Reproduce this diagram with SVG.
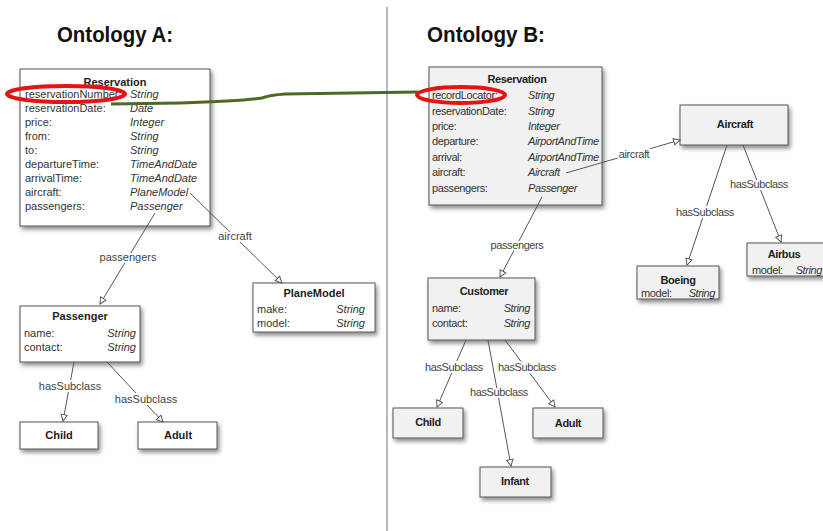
<svg xmlns="http://www.w3.org/2000/svg" width="823" height="531" viewBox="0 0 823 531">
<style>
.ttl{font-family:"Liberation Sans",Arial,sans-serif;font-weight:bold;font-size:22px;fill:#111}
.a{font-family:"Liberation Sans",Arial,sans-serif;font-size:11px;fill:#333}
.ab{font-family:"Liberation Sans",Arial,sans-serif;font-size:11px;font-weight:bold;fill:#222;text-anchor:middle}
.ai{font-family:"Liberation Sans",Arial,sans-serif;font-size:11px;font-style:italic;fill:#333}
.b{font-family:"Liberation Sans",Arial,sans-serif;font-size:11px;letter-spacing:-0.4px;fill:#333}
.bb{font-family:"Liberation Sans",Arial,sans-serif;font-size:11px;letter-spacing:-0.35px;font-weight:bold;fill:#222;text-anchor:middle}
.bi{font-family:"Liberation Sans",Arial,sans-serif;font-size:11px;letter-spacing:-0.4px;font-style:italic;fill:#333}
.boxA{fill:#fff;stroke:#555;stroke-width:1;filter:url(#sh)}
.boxB{fill:#f1f1f1;stroke:#555;stroke-width:1;filter:url(#sh)}
.con{stroke:#555;stroke-width:1;fill:none;marker-end:url(#tri)}
.lblA{font-family:"Liberation Sans",Arial,sans-serif;font-size:11px;fill:#444;text-anchor:middle;stroke:#fff;stroke-width:4;paint-order:stroke}
.lblB{font-family:"Liberation Sans",Arial,sans-serif;font-size:11px;letter-spacing:-0.4px;fill:#444;text-anchor:middle;stroke:#fff;stroke-width:4;paint-order:stroke}
.red{fill:none;stroke:#e41414;stroke-width:4}
.end{text-anchor:end}
</style>
<defs>
<filter id="sh" x="-10%" y="-10%" width="130%" height="140%">
<feDropShadow dx="2" dy="3" stdDeviation="2" flood-color="#000" flood-opacity="0.45"/>
</filter>
<marker id="tri" viewBox="0 0 10 10" refX="9" refY="5" markerWidth="8" markerHeight="8" markerUnits="userSpaceOnUse" orient="auto">
<path d="M1,1 L9,5 L1,9 Z" fill="#fff" stroke="#555" stroke-width="1.2"/>
</marker>
</defs>
<rect width="823" height="531" fill="#fff"/>
<line x1="387" y1="7" x2="387" y2="531" stroke="#888" stroke-width="1.2"/>
<text class="ttl" x="57" y="42" textLength="116" lengthAdjust="spacingAndGlyphs">Ontology A:</text>
<text class="ttl" x="427" y="42" textLength="118" lengthAdjust="spacingAndGlyphs">Ontology B:</text>

<g id="A_Reservation">
<rect class="boxA" x="20" y="69" width="190" height="157"/>
<text class="ab" x="115" y="86">Reservation</text>
<text class="a" x="25" y="98">reservationNumber:</text><text class="ai" x="130" y="98">String</text>
<text class="a" x="25" y="112">reservationDate:</text><text class="ai" x="130" y="112">Date</text>
<text class="a" x="25" y="126">price:</text><text class="ai" x="130" y="126">Integer</text>
<text class="a" x="25" y="140">from:</text><text class="ai" x="130" y="140">String</text>
<text class="a" x="25" y="154">to:</text><text class="ai" x="130" y="154">String</text>
<text class="a" x="25" y="168">departureTime:</text><text class="ai" x="130" y="168">TimeAndDate</text>
<text class="a" x="25" y="182">arrivalTime:</text><text class="ai" x="130" y="182">TimeAndDate</text>
<text class="a" x="25" y="196">aircraft:</text><text class="ai" x="130" y="196">PlaneModel</text>
<text class="a" x="25" y="210">passengers:</text><text class="ai" x="130" y="210">Passenger</text>
</g>
<g id="A_Passenger">
<rect class="boxA" x="20" y="306" width="120" height="56"/>
<text class="ab" x="80" y="320">Passenger</text>
<text class="a" x="24" y="337">name:</text><text class="ai end" x="136" y="337">String</text>
<text class="a" x="24" y="351">contact:</text><text class="ai end" x="136" y="351">String</text>
</g>
<g id="A_Child">
<rect class="boxA" x="20" y="422" width="78" height="27"/>
<text class="ab" x="59" y="439">Child</text>
</g>
<g id="A_Adult">
<rect class="boxA" x="138" y="422" width="79" height="27"/>
<text class="ab" x="178" y="439">Adult</text>
</g>
<g id="A_PlaneModel">
<rect class="boxA" x="253" y="283" width="122" height="49"/>
<text class="ab" x="314" y="297">PlaneModel</text>
<text class="a" x="257" y="313">make:</text><text class="ai end" x="365" y="313">String</text>
<text class="a" x="257" y="327">model:</text><text class="ai end" x="365" y="327">String</text>
</g>

<g id="B_Reservation">
<rect class="boxB" x="429" y="67" width="173" height="138"/>
<text class="bb" x="517" y="83">Reservation</text>
<text class="b" x="432" y="99">recordLocator:</text><text class="bi" x="528" y="99">String</text>
<text class="b" x="432" y="115">reservationDate:</text><text class="bi" x="528" y="115">String</text>
<text class="b" x="432" y="130">price:</text><text class="bi" x="528" y="130">Integer</text>
<text class="b" x="432" y="145">departure:</text><text class="bi" x="528" y="145">AirportAndTime</text>
<text class="b" x="432" y="161">arrival:</text><text class="bi" x="528" y="161">AirportAndTime</text>
<text class="b" x="432" y="176">aircraft:</text><text class="bi" x="528" y="176">Aircraft</text>
<text class="b" x="432" y="192">passengers:</text><text class="bi" x="528" y="192">Passenger</text>
</g>
<g id="B_Aircraft">
<rect class="boxB" x="680" y="105" width="108" height="40"/>
<text class="bb" x="735" y="128">Aircraft</text>
</g>
<g id="B_Boeing">
<rect class="boxB" x="637" y="266" width="82" height="33"/>
<text class="bb" x="678" y="284">Boeing</text>
<text class="b" x="641" y="297">model:</text><text class="bi end" x="715" y="297">String</text>
</g>
<g id="B_Airbus">
<rect class="boxB" x="747" y="243" width="90" height="33"/>
<text class="bb" x="784" y="258">Airbus</text>
<text class="b" x="752" y="274">model:</text><text class="bi end" x="822" y="274">String</text>
</g>
<g id="B_Customer">
<rect class="boxB" x="428" y="278" width="107" height="62"/>
<text class="bb" x="484" y="295">Customer</text>
<text class="b" x="432" y="312">name:</text><text class="bi end" x="530" y="312">String</text>
<text class="b" x="432" y="327">contact:</text><text class="bi end" x="530" y="327">String</text>
</g>
<g id="B_Child">
<rect class="boxB" x="393" y="408" width="70" height="30"/>
<text class="bb" x="428" y="426">Child</text>
</g>
<g id="B_Adult">
<rect class="boxB" x="533" y="408" width="70" height="30"/>
<text class="bb" x="568" y="427">Adult</text>
</g>
<g id="B_Infant">
<rect class="boxB" x="480" y="467" width="71" height="30"/>
<text class="bb" x="515" y="485">Infant</text>
</g>

<g id="connectors">
<line class="con" x1="190" y1="193" x2="282" y2="283"/>
<text class="lblA" x="235" y="240">aircraft</text>
<line class="con" x1="155" y1="213" x2="100" y2="304"/>
<text class="lblA" x="128" y="261">passengers</text>
<line class="con" x1="74" y1="362" x2="63" y2="421"/>
<text class="lblA" x="70" y="390">hasSubclass</text>
<line class="con" x1="107" y1="362" x2="163" y2="422"/>
<text class="lblA" x="146" y="403">hasSubclass</text>

<line class="con" x1="566" y1="173" x2="680" y2="140"/>
<text class="lblB" x="634" y="158">aircraft</text>
<line class="con" x1="542" y1="197" x2="500" y2="277"/>
<text class="lblB" x="517" y="249">passengers</text>
<line class="con" x1="727" y1="145" x2="687" y2="265"/>
<text class="lblB" x="705" y="216">hasSubclass</text>
<line class="con" x1="743" y1="145" x2="781" y2="242"/>
<text class="lblB" x="759" y="188">hasSubclass</text>
<line class="con" x1="466" y1="340" x2="437" y2="407"/>
<text class="lblB" x="454" y="371">hasSubclass</text>
<line class="con" x1="505" y1="340" x2="555" y2="407"/>
<text class="lblB" x="527" y="371">hasSubclass</text>
<line class="con" x1="488" y1="340" x2="511" y2="466"/>
<text class="lblB" x="499" y="396">hasSubclass</text>

<path d="M111,104 L180,103 Q245,101 262,98 Q270,95 285,94 L418,92" fill="none" stroke="#4e6a22" stroke-width="3"/>
<ellipse class="red" cx="66" cy="94" rx="59" ry="8"/>
<ellipse class="red" cx="461" cy="95" rx="44" ry="8"/>
</g>
</svg>
